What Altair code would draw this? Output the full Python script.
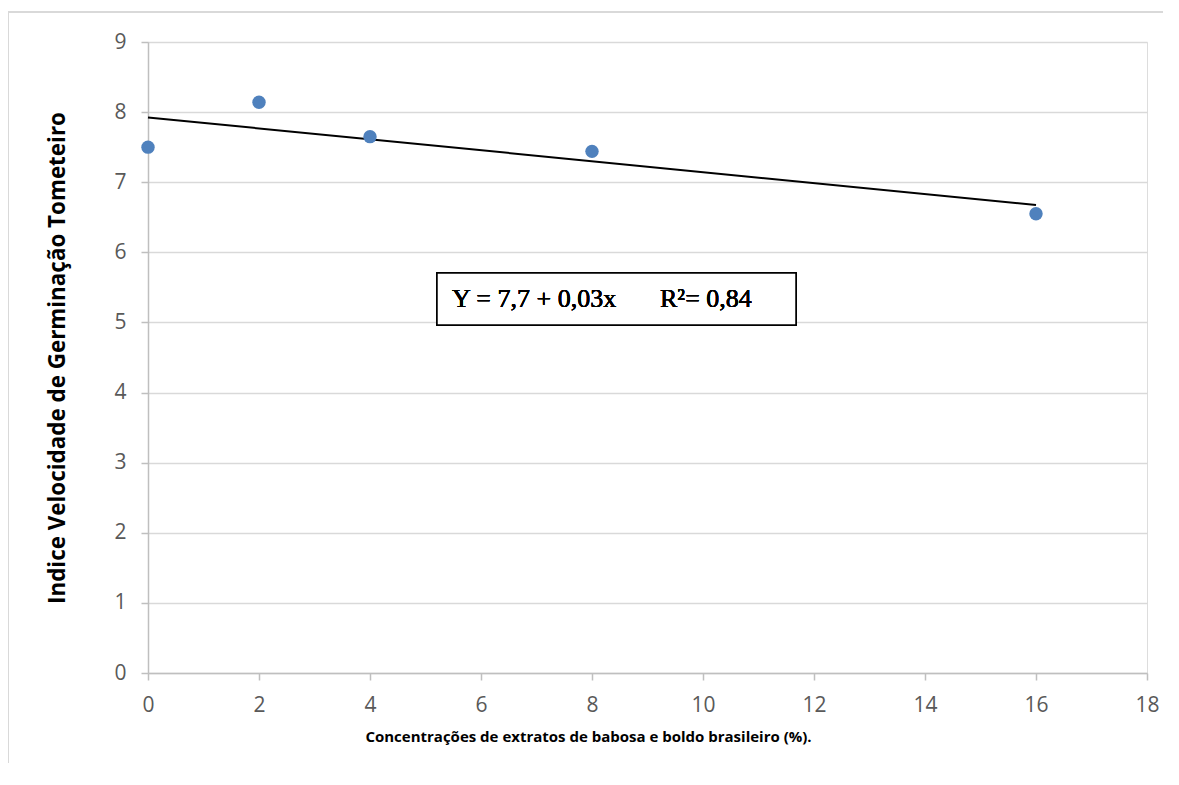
import altair as alt
import pandas as pd

# Data
concentracao = [0, 2, 4, 8, 16]
ivg = [7.50, 8.14, 7.65, 7.44, 6.55]
x_ticks = [0, 2, 4, 6, 8, 10, 12, 14, 16, 18]
y_ticks = [0, 1, 2, 3, 4, 5, 6, 7, 8, 9]
equacao = "Y = 7,7 + 0,03x"
r2 = "R²= 0,84"

df = pd.DataFrame({"x": concentracao, "y": ivg})

W, H = 999, 631

xs = alt.Scale(domain=[0, 18], nice=False)
ys = alt.Scale(domain=[0, 9], nice=False)

base = alt.Chart(df)

points = base.mark_circle(size=180, opacity=1, color="#4F81BD").encode(
    x=alt.X("x:Q", scale=xs,
            axis=alt.Axis(values=x_ticks, format="d", labelFlush=False,
                          title="Concentrações de extratos de babosa e boldo brasileiro (%).",
                          grid=False, domainColor="#bfbfbf", domainWidth=1.5,
                          tickColor="#bfbfbf", tickWidth=1.5, tickSize=7,
                          labelFont="Open Sans", labelFontSize=21, labelColor="#595959",
                          labelPadding=14,
                          titleFont="Open Sans", titleFontSize=15,
                          titleFontWeight="bold", titleColor="#000000",
                          titleX=440, titleY=63, titleBaseline="middle", titleAnchor="middle")),
    y=alt.Y("y:Q", scale=ys,
            axis=alt.Axis(values=y_ticks, format="d", labelFlush=False,
                          title="Indice Velocidade de Germinação Tometeiro",
                          grid=True, gridColor="#d9d9d9", gridWidth=1.5,
                          domainColor="#bfbfbf", domainWidth=1.5,
                          tickColor="#bfbfbf", tickWidth=1.5, tickSize=7,
                          labelFont="Open Sans", labelFontSize=21, labelColor="#595959",
                          labelPadding=15,
                          titleFont="Open Sans", titleFontSize=22.4, titleFontWeight="bold",
                          titleColor="#000000", titleX=-91, titleBaseline="middle",
                          titleAngle=-90)),
)

trend = base.transform_regression("x", "y", extent=[0, 16]).mark_line(
    color="#000000", strokeWidth=2
).encode(x=alt.X("x:Q", scale=xs), y=alt.Y("y:Q", scale=ys))

frame = base.mark_rect(fill=None, stroke="#d9d9d9", strokeWidth=1.5, clip=False).encode(
    x=alt.value(-140), x2=alt.value(W + 60), y=alt.value(-30), y2=alt.value(H + 130)
)

box = base.mark_rect(fill="white", stroke="#000000", strokeWidth=1.5).encode(
    x=alt.value(289), x2=alt.value(648), y=alt.value(231), y2=alt.value(283)
)

eq_text = base.mark_text(font="Liberation Serif", fontSize=26, fontWeight=400,
                         align="left", baseline="alphabetic", color="#000000").encode(
    x=alt.value(304), y=alt.value(265), text=alt.value(equacao)
)
r2_text = base.mark_text(font="Liberation Serif", fontSize=26, fontWeight=400,
                         align="left", baseline="alphabetic", color="#000000").encode(
    x=alt.value(512), y=alt.value(265), text=alt.value(r2)
)

chart = alt.layer(frame, trend, points, box, eq_text, r2_text).properties(
    width=W, height=H,
    autosize=alt.AutoSizeParams(type="none"),
    padding={"left": 140, "top": 34, "right": 16, "bottom": 90},
).configure_view(stroke=None).configure(background="white")

chart.save("out.html", embed_options={"renderer": "svg", "actions": False})
